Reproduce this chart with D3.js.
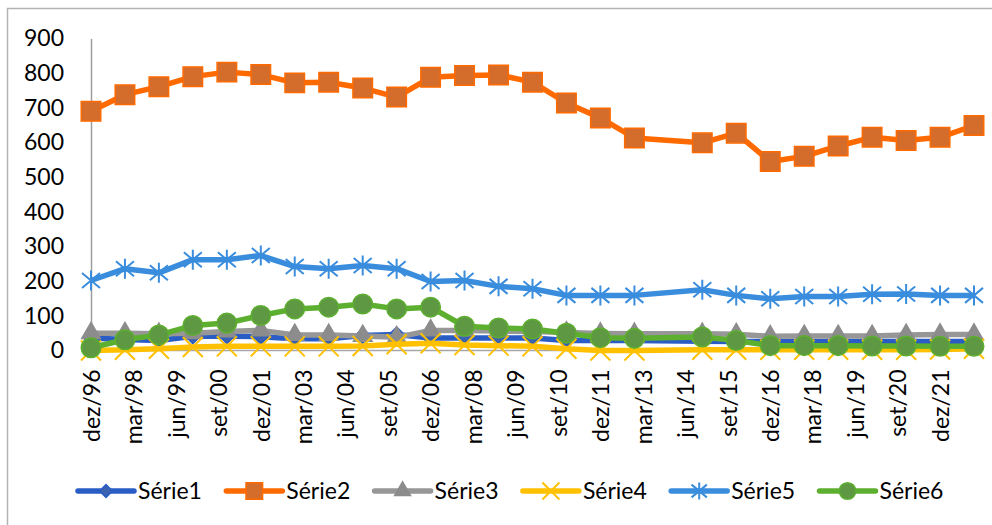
<!DOCTYPE html>
<html>
<head>
<meta charset="utf-8">
<script src="https://cdn.jsdelivr.net/npm/d3@7"></script>
<style>
  body { margin: 0; background: #fff; }
  svg text { font-family: Lato, "Open Sans", sans-serif; fill: #000; }
</style>
</head>
<body>
<svg id="chart" width="992" height="525"></svg>
<script>
// years with a December reading (2013 has no point)
const years = [1996, 1997, 1998, 1999, 2000, 2001, 2002, 2003, 2004, 2005, 2006, 2007, 2008,
  2009, 2010, 2011, 2012, 2014, 2015, 2016, 2017, 2018, 2019, 2020, 2021, 2022];

const serie1 = [36, 32, 29, 41, 41, 40, 34, 34, 43, 46, 36, 36, 36, 36, 29, 29, 29, 27, 26, 26, 26, 26, 26, 26, 26, 26];
const serie2 = [690, 738, 761, 790, 803, 796, 772, 774, 757, 731, 788, 793, 795, 774, 714, 671, 613, 599, 627, 545, 560, 590, 615, 606, 615, 649];
const serie3 = [50, 50, 48, 50, 55, 58, 45, 45, 42, 38, 58, 58, 56, 55, 52, 49, 48, 48, 47, 41, 42, 42, 42, 45, 46, 46];
const serie4 = [0, 2, 5, 10, 12, 12, 12, 12, 13, 18, 21, 16, 14, 12, 5, 0, 0, 2, 2, 2, 2, 2, 2, 2, 3, 5];
const serie5 = [202, 236, 224, 262, 262, 274, 242, 236, 245, 236, 199, 202, 185, 178, 159, 159, 159, 175, 159, 149, 156, 156, 162, 163, 159, 159];
const serie6 = [8, 31, 45, 72, 79, 101, 120, 125, 134, 120, 125, 70, 65, 62, 50, 37, 35, 39, 29, 14, 14, 14, 13, 13, 12, 12];

const seriesNames = ["Série1", "Série2", "Série3", "Série4", "Série5", "Série6"];
const seriesValues = [serie1, serie2, serie3, serie4, serie5, serie6];

const tickLabels = ["dez/96", "mar/98", "jun/99", "set/00", "dez/01", "mar/03", "jun/04", "set/05",
  "dez/06", "mar/08", "jun/09", "set/10", "dez/11", "mar/13", "jun/14", "set/15", "dez/16",
  "mar/18", "jun/19", "set/20", "dez/21"];
const yTicks = [0, 100, 200, 300, 400, 500, 600, 700, 800, 900];

const styles = [
  { line: "#2A5CC6", fill: "#3A62B0", stroke: "#2A5CC6", marker: "diamond" },
  { line: "#FF6A00", fill: "#D46D2B", stroke: "#FF6A00", marker: "square" },
  { line: "#979797", fill: "#8C8C8C", stroke: "#8C8C8C", marker: "triangle" },
  { line: "#FFC000", fill: "none", stroke: "#FFC000", marker: "x" },
  { line: "#3A8DDD", fill: "none", stroke: "#3A8DDD", marker: "star" },
  { line: "#5DAF2F", fill: "#5E9842", stroke: "#5DAF2F", marker: "circle" }
];

const svg = d3.select("#chart");

// outer chart border
svg.append("rect")
  .attr("x", 7.5).attr("y", 8.5)
  .attr("width", 1000).attr("height", 600)
  .attr("fill", "none")
  .attr("stroke", "#b3b3b3")
  .attr("stroke-width", 1.5);

const dates = years.map(y => new Date(y, 11, 1));
const tickDates = tickLabels.map((t, i) => d3.timeMonth.offset(new Date(1996, 11, 1), 15 * i));

const x = d3.scaleTime()
  .domain([new Date(1996, 11, 1), new Date(2022, 11, 1)])
  .range([91, 974]);

const y = d3.scaleLinear()
  .domain([0, 900])
  .range([350.5, 38.5]);

// y axis
const yAxis = svg.append("g")
  .attr("transform", "translate(91,0)")
  .call(d3.axisLeft(y).tickValues(yTicks).tickSize(0).tickPadding(27));
yAxis.select(".domain").attr("stroke", "#9e9e9e").attr("stroke-width", 1.5);
yAxis.selectAll("text").style("font-size", "23px");

// x axis
const xAxis = svg.append("g")
  .attr("transform", `translate(0,${y(0)})`)
  .call(d3.axisBottom(x).tickValues(tickDates).tickSize(0)
    .tickFormat((d, i) => tickLabels[i]));
xAxis.select(".domain").attr("stroke", "#a6a6a6").attr("stroke-width", 1.5)
  .attr("d", "M91,0H980");
xAxis.selectAll("text")
  .style("font-size", "23px")
  .attr("transform", "rotate(-90)")
  .attr("text-anchor", "end")
  .attr("x", -19)
  .attr("y", 0)
  .attr("dy", "0.36em");

function markerPath(type, s) {
  const k = s || 1;
  if (type === "diamond") {
    const h = 7.5 * k;
    return `M0,${-h}L${h},0L0,${h}L${-h},0Z`;
  }
  if (type === "square") return d3.symbol(d3.symbolSquare, 380 * k * k)();
  if (type === "triangle") return d3.symbol(d3.symbolTriangle, 150 * k * k)();
  if (type === "circle") return d3.symbol(d3.symbolCircle, 300 * k * k)();
  if (type === "x") {
    const h = 10 * k;
    return `M${-h},${-h}L${h},${h}M${-h},${h}L${h},${-h}`;
  }
  if (type === "star") {
    const h = 10 * k;
    return `M0,${-h}V${h}M${-h * 0.9},${-h * 0.75}L${h * 0.9},${h * 0.75}M${-h * 0.9},${h * 0.75}L${h * 0.9},${-h * 0.75}`;
  }
}

function drawMarker(sel, st, s) {
  const isStroke = st.marker === "x" || st.marker === "star";
  sel.attr("d", markerPath(st.marker, s))
    .attr("fill", isStroke ? "none" : st.fill)
    .attr("stroke", st.stroke)
    .attr("stroke-width", isStroke ? 2 : 1.5);
}

const line = d3.line()
  .x(d => x(d.date))
  .y(d => y(d.value));

seriesValues.forEach((vals, si) => {
  const st = styles[si];
  const pts = vals.map((v, i) => ({ date: dates[i], value: v }));
  const g = svg.append("g").attr("class", "series");

  g.append("path")
    .datum(pts)
    .attr("d", line)
    .attr("fill", "none")
    .attr("stroke", st.line)
    .attr("stroke-width", 5.5)
    .attr("stroke-linejoin", "round");

  g.selectAll("path.marker")
    .data(pts)
    .join("path")
    .attr("class", "marker")
    .attr("transform", d => `translate(${x(d.date)},${y(d.value)})`)
    .call(drawMarker, st, 1);
});

// legend
const legend = svg.append("g").attr("transform", "translate(0,491)");
seriesNames.forEach((name, i) => {
  const st = styles[i];
  const x0 = 78 + i * 148.3;
  const item = legend.append("g").attr("transform", `translate(${x0},0)`);
  item.append("line")
    .attr("x1", 0).attr("x2", 56)
    .attr("y1", 0).attr("y2", 0)
    .attr("stroke", st.line)
    .attr("stroke-width", 5.5)
    .attr("stroke-linecap", "round");
  item.append("path")
    .attr("transform", "translate(28,0)")
    .call(drawMarker, st, 0.85);
  item.append("text")
    .attr("x", 60)
    .attr("y", 0)
    .attr("dy", "0.35em")
    .style("font-size", "23px")
    .text(name);
});
</script>
</body>
</html>
